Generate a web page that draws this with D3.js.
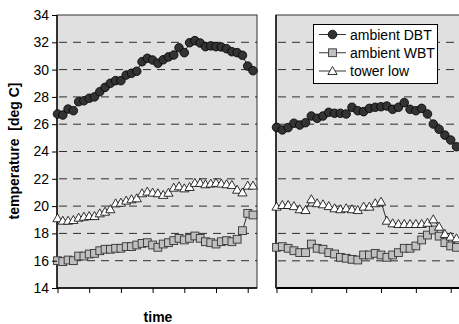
<!DOCTYPE html>
<html>
<head>
<meta charset="utf-8">
<script src="https://cdn.jsdelivr.net/npm/d3@7"></script>
<style>
  body { margin: 0; background: #fff; }
  text { font-family: "Liberation Sans", Arial, sans-serif; fill: #000; }
</style>
</head>
<body>
<script>

//temperature readings, left panel (38 samples)
var leftDBT = [26.75, 26.67, 27.11, 26.99, 27.65, 27.72, 27.9, 28.0, 28.38, 28.7,
               29.0, 29.19, 29.19, 29.6, 29.73, 29.88, 30.58, 30.83, 30.7, 30.46,
               30.72, 30.93, 31.07, 31.6, 31.24, 31.97, 32.12, 31.95, 31.68, 31.74,
               31.68, 31.66, 31.53, 31.31, 31.24, 31.05, 30.26, 29.92];
var leftWBT = [16.0, 15.93, 16.05, 16.0, 16.34, 16.34, 16.49, 16.54, 16.73, 16.84,
               16.84, 16.91, 16.91, 17.03, 17.03, 17.15, 17.27, 17.32, 17.15, 16.98,
               17.22, 17.32, 17.47, 17.64, 17.52, 17.64, 17.81, 17.64, 17.39, 17.32,
               17.22, 17.39, 17.47, 17.39, 17.57, 18.2, 19.47, 19.35];
var leftTower = [19.11, 18.93, 18.93, 18.98, 19.15, 19.22, 19.27, 19.27, 19.47, 19.59,
                 19.77, 20.2, 20.25, 20.4, 20.5, 20.57, 20.94, 21.06, 20.99, 20.94,
                 20.82, 20.98, 21.35, 21.45, 21.3, 21.4, 21.7, 21.7, 21.6, 21.65,
                 21.7, 21.65, 21.6, 21.55, 21.2, 21.0, 21.5, 21.5];

//temperature readings, right panel (32 visible samples)
var rightDBT = [25.77, 25.58, 25.75, 26.07, 25.94, 26.11, 26.6, 26.43, 26.6, 26.87,
                26.8, 26.8, 26.75, 27.24, 26.99, 26.92, 27.16, 27.24, 27.28, 27.33,
                27.09, 27.24, 27.58, 27.09, 26.99, 27.16, 26.75, 26.01, 25.63, 25.2,
                24.84, 24.35];
var rightWBT = [16.98, 17.03, 16.91, 16.73, 16.59, 16.59, 17.22, 16.91, 16.84, 16.59,
                16.49, 16.25, 16.18, 16.1, 16.05, 16.42, 16.42, 16.54, 16.42, 16.25,
                16.42, 16.59, 16.91, 16.91, 17.08, 17.52, 17.88, 18.25, 17.8, 17.32,
                17.08, 16.98];
var rightTower = [19.96, 20.08, 20.08, 20.0, 19.77, 19.71, 20.5, 20.21, 20.13, 20.0,
                  19.84, 19.77, 19.84, 19.77, 19.71, 19.96, 19.96, 20.21, 20.32, 18.93,
                  18.74, 18.69, 18.69, 18.69, 18.69, 18.69, 18.78, 19.03, 18.49, 17.96,
                  17.76, 17.64];

var yTicks = [14, 16, 18, 20, 22, 24, 26, 28, 30, 32, 34];
var seriesNames = ["ambient DBT", "ambient WBT", "tower low"];

var width = 459,
    height = 324;

var svg = d3.select("body")
    .append("svg")
    .attr("width", width)
    .attr("height", height);

var y = d3.scaleLinear()
    .domain([14, 34])
    .range([288, 15]);

//the two panels share the y scale
var panels = [
    {x0: 57, x1: 257, x: d3.scaleLinear().domain([0, 37]).range([57.5, 253]),
     data: [leftDBT, leftWBT, leftTower], last: 36},
    {x0: 276, x1: 480, x: d3.scaleLinear().domain([0, 31]).range([276.5, 456.5]),
     data: [rightDBT, rightWBT, rightTower], last: 30}
];

//marker drawing for each series
function drawMarker(g, kind, cx, cy){
    if (kind == 0){
        g.append("circle")
            .attr("cx", cx).attr("cy", cy).attr("r", 4.3)
            .attr("fill", "#333").attr("stroke", "#000").attr("stroke-width", 0.8);
    } else if (kind == 1){
        g.append("rect")
            .attr("x", cx - 3.9).attr("y", cy - 3.9)
            .attr("width", 7.8).attr("height", 7.8)
            .attr("fill", "#c0c0c0").attr("stroke", "#333").attr("stroke-width", 0.9);
    } else {
        g.append("path")
            .attr("d", "M" + cx + "," + (cy - 4.5) + "L" + (cx + 4.6) + "," + (cy + 3.5) +
                       "L" + (cx - 4.6) + "," + (cy + 3.5) + "Z")
            .attr("fill", "#fff").attr("stroke", "#000").attr("stroke-width", 0.8);
    }
}

panels.forEach(function(p, pi){
    var g = svg.append("g");

    //plot area
    g.append("rect")
        .attr("x", p.x0).attr("y", y(34))
        .attr("width", p.x1 - p.x0).attr("height", y(14) - y(34))
        .attr("fill", "#e0e0e0")
        .attr("stroke", "#333").attr("stroke-width", 1);

    //dashed gridlines
    g.selectAll(".grid")
        .data(yTicks.filter(function(t){ return t > 14 && t < 34; }))
        .enter()
        .append("line")
        .attr("x1", p.x0 + 2).attr("x2", p.x1)
        .attr("y1", function(d){ return y(d); })
        .attr("y2", function(d){ return y(d); })
        .attr("stroke", function(d){ return (pi == 1 && d == 16) ? "#666" : "#000"; })
        .attr("stroke-width", function(d){ return (pi == 1 && d == 16) ? 1.6 : 0.8; })
        .attr("stroke-dasharray", "8,6");

    //x axis
    var xTicks = d3.range(0, p.last + 1, 6);
    var xAxis = d3.axisBottom(p.x)
        .tickValues(xTicks)
        .tickSize(5)
        .tickFormat("");
    var ax = g.append("g")
        .attr("transform", "translate(0," + y(14) + ")")
        .call(xAxis);
    ax.select(".domain").remove();
    ax.selectAll("line").attr("stroke", "#000");
    g.append("line")
        .attr("x1", p.x0).attr("x2", p.x1)
        .attr("y1", y(14)).attr("y2", y(14))
        .attr("stroke", "#000").attr("stroke-width", pi == 1 ? 2 : 1.3);

    //left edge of the panel
    g.append("line")
        .attr("x1", p.x0).attr("x2", p.x0)
        .attr("y1", y(34)).attr("y2", y(14))
        .attr("stroke", pi == 1 ? "#333" : "#000").attr("stroke-width", pi == 1 ? 2 : 1.3);

    //series lines then markers
    p.data.forEach(function(vals, si){
        var line = d3.line()
            .x(function(d, i){ return p.x(i); })
            .y(function(d){ return y(d); });
        g.append("path")
            .datum(vals)
            .attr("d", line)
            .attr("fill", "none")
            .attr("stroke", "#000")
            .attr("stroke-width", 0.8);
        vals.forEach(function(v, i){
            drawMarker(g, si, p.x(i), y(v));
        });
    });
});

//y axis with labels
var yAxis = d3.axisLeft(y)
    .tickValues(yTicks)
    .tickSize(5)
    .tickPadding(3);
var yg = svg.append("g")
    .attr("transform", "translate(57,0)")
    .call(yAxis);
yg.select(".domain").remove();
yg.selectAll("line").attr("stroke", "#000");
yg.selectAll("text")
    .style("font-family", "'Liberation Sans', Arial, sans-serif")
    .style("font-size", "14px")
    .attr("fill", "#000");

//axis titles
svg.append("text")
    .attr("transform", "translate(19,151) rotate(-90)")
    .attr("text-anchor", "middle")
    .style("font-size", "14px")
    .style("font-weight", "bold")
    .style("white-space", "pre")
    .text("temperature  [deg C]");

svg.append("text")
    .attr("x", 158).attr("y", 322)
    .attr("text-anchor", "middle")
    .style("font-size", "14px")
    .style("font-weight", "bold")
    .text("time");

//legend
var legend = svg.append("g");
legend.append("rect")
    .attr("x", 313.5).attr("y", 24.5)
    .attr("width", 124).attr("height", 59)
    .attr("fill", "#fff").attr("stroke", "#000").attr("stroke-width", 1);
var legendY = d3.scalePoint()
    .domain(seriesNames)
    .range([34.5, 71]);
seriesNames.forEach(function(name, si){
    var ly = legendY(name);
    legend.append("line")
        .attr("x1", 319).attr("x2", 346)
        .attr("y1", ly).attr("y2", ly)
        .attr("stroke", "#000").attr("stroke-width", 0.8);
    drawMarker(legend, si, 332.5, ly);
    legend.append("text")
        .attr("x", 350).attr("y", ly + 5)
        .style("font-size", "14px")
        .text(name);
});

</script>
</body>
</html>
